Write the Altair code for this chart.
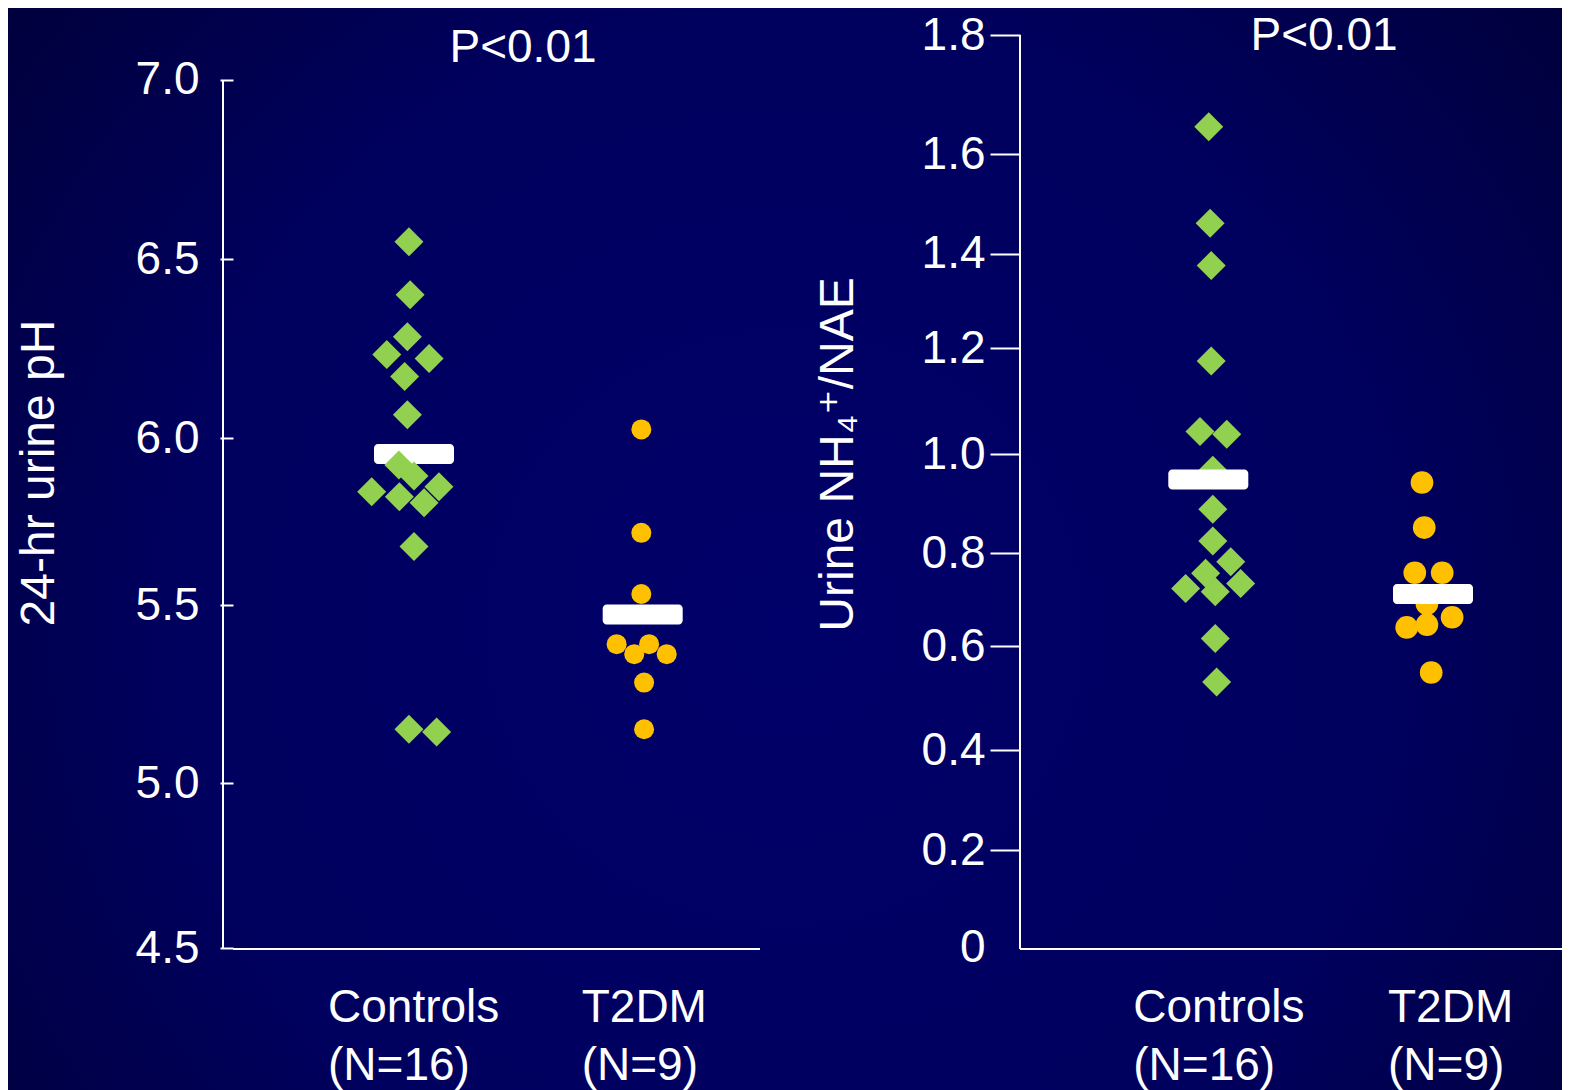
import altair as alt
import pandas as pd

# ---------------- data ----------------
groups = ["Controls", "T2DM"]
group_n = ["(N=16)", "(N=9)"]
p_label = "P<0.01"

# left panel: 24-hr urine pH
ph_controls = [6.548, 6.400, 6.283, 6.233, 6.222, 6.172, 6.065, 5.919,
               5.886, 5.839, 5.824, 5.854, 5.806, 5.675, 5.151, 5.143]
ph_controls_jitter = [-0.022, -0.017, -0.029, -0.119, 0.066, -0.041, -0.029, -0.066,
                      0.0, -0.185, -0.064, 0.109, 0.044, 0.0, -0.022, 0.099]
ph_t2dm = [6.024, 5.716, 5.533, 5.390, 5.390, 5.362, 5.362, 5.282, 5.151]
ph_t2dm_jitter = [-0.006, -0.006, -0.006, -0.114, 0.028, -0.037, 0.105, 0.006, 0.006]
ph_means = [5.952, 5.473]
ph_ticks = [4.5, 5.0, 5.5, 6.0, 6.5, 7.0]

# right panel: urine NH4+/NAE
nh4_controls = [1.646, 1.461, 1.375, 1.176, 1.043, 1.038, 0.968, 0.889,
                0.825, 0.782, 0.757, 0.735, 0.724, 0.717, 0.616, 0.531]
nh4_controls_jitter = [0.002, 0.008, 0.013, 0.013, -0.037, 0.082, 0.020, 0.020,
                       0.020, 0.100, -0.012, 0.144, -0.101, 0.031, 0.031, 0.037]
nh4_t2dm = [0.943, 0.852, 0.758, 0.758, 0.691, 0.640, 0.646, 0.662, 0.549]
nh4_t2dm_jitter = [-0.049, -0.039, -0.081, 0.041, -0.027, -0.117, -0.027, 0.085, -0.008]
nh4_means = [0.949, 0.712]
nh4_ticks = [0, 0.2, 0.4, 0.6, 0.8, 1.0, 1.2, 1.4, 1.6, 1.8]

# ---------------- layout / style ----------------
W, H = 1554, 1082
FONT = "Liberation Sans, Arial, DejaVu Sans, sans-serif"
GREEN = "#92D050"
GOLD = "#FFC000"
WHITE = "#FFFFFF"

# pixel rows (inside the canvas) where the hand-drawn ticks of the original sit
L_TICK_PX = [940, 775, 597, 430, 251, 71.7]
R_TICK_PX = [939, 842, 742, 638, 545.3, 446.3, 340.3, 245.7, 146, 27]


def xdom(anchor_val, anchor_px, k):
    return [anchor_val - anchor_px / k, anchor_val + (W - anchor_px) / k]


L_X = alt.Scale(domain=xdom(1, 406, 228.7), nice=False, zero=False)
L_Y = alt.Scale(domain=ph_ticks, range=L_TICK_PX, nice=False, zero=False)
R_X = alt.Scale(domain=xdom(1, 1200.3, 224.7), nice=False, zero=False)
R_Y = alt.Scale(domain=nh4_ticks, range=R_TICK_PX, nice=False, zero=False)

common_axis = dict(orient="left", domain=False, grid=False, ticks=True, tickWidth=2,
                   tickColor=WHITE, labelFont=FONT, labelFontSize=46, labelColor=WHITE,
                   labelBaseline="middle", labelFlush=False, labelOverlap=False,
                   titleFont=FONT, titleFontSize=48, titleColor=WHITE,
                   titleFontWeight="normal", titleAngle=270, titleAlign="center",
                   titleBaseline="middle", zindex=2)

L_AXIS = alt.Axis(offset=-225, values=ph_ticks, format=".1f", tickSize=13,
                  labelPadding=21, title="24-hr urine pH", titleX=-194, titleY=464.5,
                  **common_axis)
R_AXIS = alt.Axis(offset=-1012, values=nh4_ticks,
                  labelExpr="datum.value == 0 ? '0' : format(datum.value, '.1f')",
                  tickSize=30, labelPadding=5,
                  tickOpacity={"condition": {"test": "datum.value == 0", "value": 0}, "value": 1},
                  title="Urine NH\u2084\u207A/NAE", titleX=-182, titleY=446,
                  **common_axis)


def points_df(vals, jit, gi):
    return pd.DataFrame({"x": [gi + 1 + j for j in jit], "y": vals, "group": groups[gi]})


def means_df(means):
    return pd.DataFrame({"x": [1, 2], "y": means, "group": groups})


def labels_df():
    return pd.DataFrame({"x": [1, 2], "text": [g + "\n" + n for g, n in zip(groups, group_n)],
                         "group": groups})


def panel(ctrl, ctrl_j, t2, t2_j, means, xs, ys, axis, circle_size, bars_on_top,
          label_dx, p_xy, yaxis_px, xaxis_px):
    pts_c = alt.Chart(points_df(ctrl, ctrl_j, 0)).mark_point(
        shape="diamond", filled=True, size=841, color=GREEN, opacity=1, strokeWidth=0
    ).encode(x=alt.X("x:Q", scale=xs, axis=None), y=alt.Y("y:Q", scale=ys, axis=axis))
    pts_t = alt.Chart(points_df(t2, t2_j, 1)).mark_point(
        shape="circle", filled=True, size=circle_size, color=GOLD, opacity=1, strokeWidth=0
    ).encode(x=alt.X("x:Q", scale=xs, axis=None), y=alt.Y("y:Q", scale=ys, axis=axis))
    bars = alt.Chart(means_df(means)).mark_tick(
        orient="horizontal", size=80, thickness=20, color=WHITE, opacity=1, cornerRadius=4
    ).encode(x=alt.X("x:Q", scale=xs, axis=None), y=alt.Y("y:Q", scale=ys, axis=axis))

    lbls = []
    for gi, g in enumerate(groups):
        lbls.append(
            alt.Chart(labels_df()).transform_filter(alt.datum.group == g).mark_text(
                align="left", baseline="alphabetic", lineBreak="\n", lineHeight=58,
                font=FONT, fontSize=46, color=WHITE, dx=label_dx[gi]
            ).encode(x=alt.X("x:Q", scale=xs, axis=None), y=alt.value(1013.7), text="text:N")
        )

    ptxt = alt.Chart(pd.DataFrame({"t": [p_label]})).mark_text(
        align="center", baseline="alphabetic", font=FONT, fontSize=46, color=WHITE
    ).encode(x=alt.value(p_xy[0]), y=alt.value(p_xy[1]), text="t:N")

    yline = alt.Chart(pd.DataFrame({"k": [0]})).mark_rule(color=WHITE, strokeWidth=2).encode(
        x=alt.value(yaxis_px[0]), y=alt.value(yaxis_px[1]), y2=alt.value(yaxis_px[2]))
    xline = alt.Chart(pd.DataFrame({"k": [0]})).mark_rule(color=WHITE, strokeWidth=2).encode(
        x=alt.value(xaxis_px[0]), x2=alt.value(xaxis_px[1]), y=alt.value(xaxis_px[2]))

    order = [pts_c, pts_t, bars] if bars_on_top else [bars, pts_c, pts_t]
    return alt.layer(yline, xline, *order, *lbls, ptxt)


left = panel(ph_controls, ph_controls_jitter, ph_t2dm, ph_t2dm_jitter, ph_means,
             L_X, L_Y, L_AXIS, 400, False, [-86, -61], (515, 54),
             (215, 72, 941), (225, 752, 941))
right = panel(nh4_controls, nh4_controls_jitter, nh4_t2dm, nh4_t2dm_jitter, nh4_means,
              R_X, R_Y, R_AXIS, 515, True, [-75, -45], (1316, 42),
              (1012, 27, 941), (1012, 1554, 941))

bg = alt.Chart(pd.DataFrame({"k": [0]})).mark_rect(
    fill=alt.RadialGradient(
        gradient="radial",
        stops=[alt.GradientStop(color="#00006A", offset=0),
               alt.GradientStop(color="#00005E", offset=0.55),
               alt.GradientStop(color="#000032", offset=1)],
        x1=0.5, y1=0.55, r1=0, x2=0.5, y2=0.55, r2=0.72),
    strokeWidth=0
).encode(x=alt.value(0), x2=alt.value(W), y=alt.value(0), y2=alt.value(H))

chart = alt.layer(bg, left, right).resolve_scale(x="independent", y="independent").properties(
    width=W, height=H, padding=0, background="#000050",
    autosize=alt.AutoSizeParams(type="none")
).configure_view(strokeWidth=0)

chart.save("out.html", embed_options={"renderer": "svg", "actions": False})
